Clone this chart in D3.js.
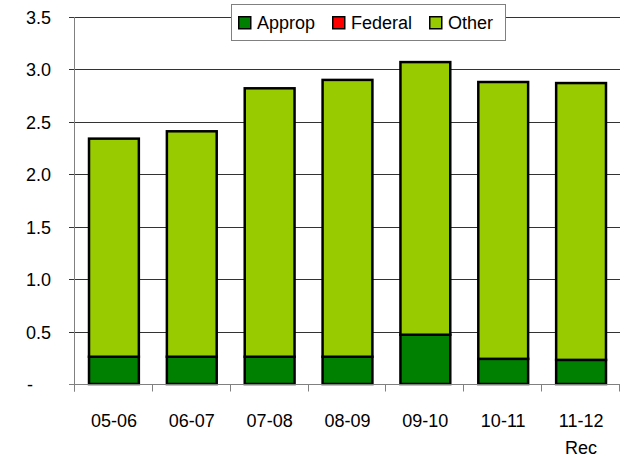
<!DOCTYPE html>
<html>
<head>
<meta charset="utf-8">
<script src="https://cdn.jsdelivr.net/npm/d3@7"></script>
<style>
  body { margin: 0; background: #fff; }
  text { font-family: "Liberation Sans", Arial, sans-serif; fill: #000; }
</style>
</head>
<body>
<div id="chart"></div>
<script>
'use strict';

var years = ['05-06', '06-07', '07-08', '08-09', '09-10', '10-11', '11-12'];
var yearSub = ['', '', '', '', '', '', 'Rec'];
var approp = [0.26, 0.26, 0.26, 0.26, 0.47, 0.24, 0.23];
var federal = [0, 0, 0, 0, 0, 0, 0];
var other = [2.08, 2.15, 2.56, 2.64, 2.60, 2.64, 2.64];
var seriesNames = ['Approp', 'Federal', 'Other'];
var seriesColors = ['#008000', '#ff0000', '#99cc00'];
var yTicks = [0, 0.5, 1.0, 1.5, 2.0, 2.5, 3.0, 3.5];

var width = 625, height = 458;
var margins = { left: 75, right: 5, top: 17, bottom: 74 };

var svg = d3.select('#chart').append('svg')
  .attr('width', width)
  .attr('height', height);

var xScale = d3.scaleBand()
  .domain(years)
  .range([margins.left, width - margins.right])
  .paddingInner(0.36)
  .paddingOuter(0.18);

var yScale = d3.scaleLinear()
  .domain([0, 3.5])
  .range([height - margins.bottom, margins.top]);

// gridlines + y ticks
svg.append('g').attr('class', 'grid')
  .selectAll('line')
  .data(yTicks.slice(1))
  .enter().append('line')
  .attr('x1', margins.left - 6)
  .attr('x2', width - margins.right)
  .attr('y1', function(d) { return Math.round(yScale(d)) + 0.5; })
  .attr('y2', function(d) { return Math.round(yScale(d)) + 0.5; })
  .style('stroke', '#333')
  .style('stroke-width', 1);

// y labels
svg.append('g').attr('class', 'yLabels')
  .selectAll('text')
  .data(yTicks)
  .enter().append('text')
  .attr('x', function(d) { return d === 0 ? 27 : 51; })
  .attr('y', function(d) { return yScale(d) + 7; })
  .style('text-anchor', function(d) { return d === 0 ? 'start' : 'end'; })
  .style('font-size', '18px')
  .text(function(d) { return d === 0 ? '-' : d3.format('.1f')(d); });

// stacked bars
var stack = d3.stack().keys([0, 1, 2])
  .value(function(i, k) { return [approp, federal, other][k][i]; });
var layers = stack(d3.range(years.length));

var bars = svg.append('g').attr('class', 'bars');
layers.forEach(function(layer, k) {
  bars.append('g')
    .style('fill', seriesColors[k])
    .selectAll('rect')
    .data(layer.filter(function(d) { return d[1] > d[0]; }))
    .enter().append('rect')
    .attr('x', function(d) { return xScale(years[d.data]); })
    .attr('width', xScale.bandwidth())
    .attr('y', function(d) { return yScale(d[1]); })
    .attr('height', function(d) { return yScale(d[0]) - yScale(d[1]); })
    .style('stroke', '#000')
    .style('stroke-width', 2.5);
});

// axes lines
var y0 = Math.round(yScale(0)) + 0.5;
svg.append('line')
  .attr('x1', margins.left - 6).attr('x2', width - margins.right)
  .attr('y1', y0).attr('y2', y0)
  .style('stroke', '#808080');
svg.append('line')
  .attr('x1', margins.left - 0.5).attr('x2', margins.left - 0.5)
  .attr('y1', margins.top).attr('y2', y0 + 7)
  .style('stroke', '#808080');

// x ticks
var step = xScale.step();
svg.append('g').selectAll('line')
  .data(d3.range(years.length + 1))
  .enter().append('line')
  .attr('x1', function(i) { return Math.round(margins.left + i * step) - 0.5; })
  .attr('x2', function(i) { return Math.round(margins.left + i * step) - 0.5; })
  .attr('y1', y0).attr('y2', y0 + 7)
  .style('stroke', '#808080');

// x labels
var xl = svg.append('g').attr('class', 'xLabels');
xl.selectAll('text.l1')
  .data(years)
  .enter().append('text')
  .attr('class', 'l1')
  .attr('x', function(d) { return xScale(d) + xScale.bandwidth() / 2; })
  .attr('y', 427)
  .style('text-anchor', 'middle')
  .style('font-size', '18px')
  .text(function(d) { return d; });
xl.selectAll('text.l2')
  .data(years)
  .enter().append('text')
  .attr('class', 'l2')
  .attr('x', function(d) { return xScale(d) + xScale.bandwidth() / 2; })
  .attr('y', 454)
  .style('text-anchor', 'middle')
  .style('font-size', '18px')
  .text(function(d, i) { return yearSub[i]; });

// legend
var legend = svg.append('g').attr('class', 'legend');
legend.append('rect')
  .attr('x', 231.5).attr('y', 4.5)
  .attr('width', 274).attr('height', 36)
  .style('fill', '#fff')
  .style('stroke', '#808080');
var legendX = [238, 332, 429];
seriesNames.forEach(function(name, i) {
  legend.append('rect')
    .attr('x', legendX[i] + 0.75).attr('y', 16.75)
    .attr('width', 12).attr('height', 12)
    .style('fill', seriesColors[i])
    .style('stroke', '#000')
    .style('stroke-width', 1.5);
  legend.append('text')
    .attr('x', legendX[i] + 19)
    .attr('y', 29)
    .style('font-size', '18px')
    .text(name);
});
</script>
</body>
</html>
